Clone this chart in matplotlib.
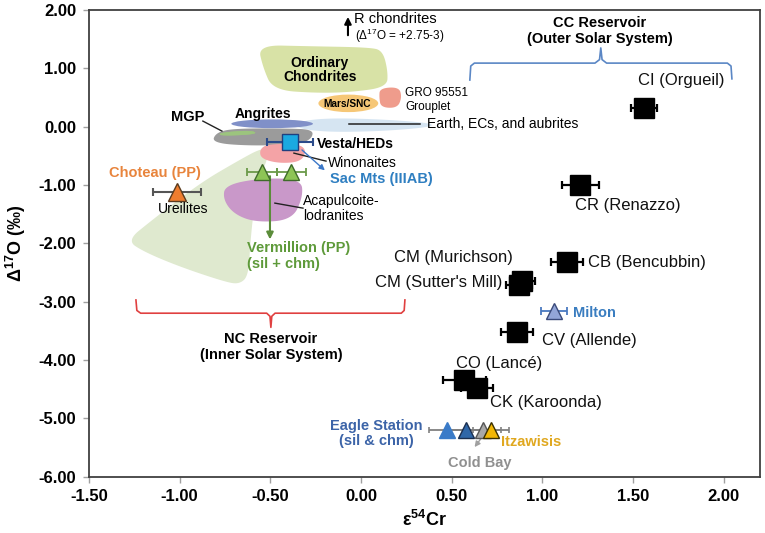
import numpy as np
import matplotlib.pyplot as plt
from matplotlib.patches import Polygon, Ellipse

plt.rcParams['font.family'] = ['Liberation Sans', 'DejaVu Sans']
plt.rcParams['mathtext.fontset'] = 'custom'
plt.rcParams['mathtext.rm'] = 'Liberation Sans'
plt.rcParams['mathtext.bf'] = 'Liberation Sans:bold'

# CC chondrites (black squares)
cc_names = ["CI (Orgueil)", "CR (Renazzo)", "CM (Murichson)", "CM (Sutter's Mill)",
            "CB (Bencubbin)", "CV (Allende)", "CO (Lancé)", "CK (Karoonda)"]
cc_cr = [1.56, 1.21, 0.89, 0.87, 1.135, 0.86, 0.57, 0.64]
cc_o = [0.32, -1.00, -2.64, -2.72, -2.32, -3.52, -4.35, -4.48]
cc_err = [0.07, 0.10, 0.07, 0.07, 0.09, 0.09, 0.12, 0.09]

# pallasites / irons etc (triangles)
vesta_cr, vesta_o, vesta_err = -0.392, -0.264, 0.127
choteau_cr, choteau_o, choteau_err = -1.015, -1.12, 0.13
verm_cr = [-0.546, -0.386]
verm_o = [-0.78, -0.78]
verm_err = [0.08, 0.08]
milton_cr, milton_o, milton_err = 1.063, -3.16, 0.07
eagle_cr = [0.473, 0.578, 0.672, 0.716]
eagle_o = [-5.2, -5.2, -5.2, -5.2]
eagle_err = [0.1, 0.1, 0.1, 0.1]
eagle_face = ['#3a7bc8', '#2f67a8', '#a8a8a8', '#f2b705']
eagle_edge = ['#3a7bc8', '#1b2f4f', '#555555', '#3a3000']

# field outlines (eps54Cr, D17O)
ureilite_field = [(-1.29, -1.95), (-1.16, -1.62), (-0.89, -0.97), (-0.67, -0.57), (-0.55, -0.37),
                  (-0.50, -0.40), (-0.55, -0.83), (-0.585, -1.26), (-0.61, -1.95), (-0.62, -2.55),
                  (-0.67, -2.70), (-0.75, -2.66), (-1.00, -2.40), (-1.20, -2.14)]
oc_field = [(-0.568, 1.40), (-0.30, 1.38), (0.05, 1.36), (0.12, 1.30), (0.148, 0.95), (0.143, 0.68),
            (-0.045, 0.594), (-0.243, 0.576), (-0.486, 0.628), (-0.541, 1.02)]
gro_field = [(0.104, 0.66), (0.21, 0.68), (0.225, 0.50), (0.20, 0.32), (0.11, 0.33), (0.10, 0.50)]
earth_field = [(-0.353, 0.08), (-0.20, 0.148), (0.10, 0.13), (0.40, 0.06), (0.38, -0.01),
               (0.10, -0.08), (-0.20, -0.093), (-0.36, -0.02)]
hed_field = [(-0.822, -0.28), (-0.80, -0.10), (-0.70, -0.03), (-0.40, -0.03), (-0.265, -0.05),
             (-0.27, -0.20), (-0.337, -0.30), (-0.60, -0.33)]
mgp_field = [(-0.778, -0.10), (-0.60, -0.06), (-0.57, -0.13), (-0.78, -0.16)]
winon_field = [(-0.52, -0.30), (-0.35, -0.29), (-0.30, -0.40), (-0.33, -0.60), (-0.45, -0.63),
               (-0.55, -0.55), (-0.56, -0.40)]
acap_field = [(-0.75, -1.00), (-0.55, -0.88), (-0.33, -0.90), (-0.32, -1.20), (-0.38, -1.60),
              (-0.58, -1.64), (-0.70, -1.50), (-0.76, -1.25)]

def chaikin(pts, n=4):
    p = np.array(pts, dtype=float)
    for _ in range(n):
        q = np.roll(p, -1, axis=0)
        p = np.column_stack([0.75 * p + 0.25 * q, 0.25 * p + 0.75 * q]).reshape(-1, 2)
    return p

fig = plt.figure(figsize=(7.65, 5.33), dpi=100)
ax = fig.add_axes([0.1163, 0.1056, 0.8772, 0.8756])
ax.set_xlim(-1.5, 2.2)
ax.set_ylim(-6, 2)

fields = [(ureilite_field, '#dfe9cf'), (oc_field, '#d8e2a6'), (gro_field, '#ef9c8c'),
          (earth_field, '#d6e5f2'), (hed_field, '#9b9b9b'), (mgp_field, '#9cc47e'),
          (winon_field, '#f4a3a6'), (acap_field, '#c998c9')]
for pts, c in fields:
    ax.add_patch(Polygon(chaikin(pts), closed=True, fc=c, ec='none', zorder=1))
ax.add_patch(Ellipse((-0.07, 0.40), 0.33, 0.30, fc='#f6c777', ec='none', zorder=1))
ax.add_patch(Ellipse((-0.49, 0.05), 0.45, 0.15, fc='#8090c8', ec='none', zorder=1.5))
ax.add_patch(Polygon(chaikin(mgp_field), closed=True, fc='#9cc47e', ec='none', zorder=1.6))

# CC squares
ax.errorbar(cc_cr, cc_o, xerr=cc_err, fmt='s', color='black', ms=14, capsize=3,
            elinewidth=1.6, capthick=1.6, zorder=4)
cc_pos = [(1.764, 0.80, 'center'), (1.179, -1.345, 'left'), (0.837, -2.237, 'right'),
          (0.782, -2.666, 'right'), (1.251, -2.322, 'left'), (0.997, -3.66, 'left'),
          (0.523, -4.055, 'left'), (0.711, -4.724, 'left')]
for name, (tx, ty, ha) in zip(cc_names, cc_pos):
    ax.text(tx, ty, name, fontsize=12, ha=ha, va='center', color='#111111', zorder=5)

# Vesta
ax.errorbar(vesta_cr, vesta_o, xerr=vesta_err, fmt='s', mfc='#1ba9e1', mec='#1f3f7f', ms=11,
            ecolor='#2b4a8a', capsize=3, elinewidth=1.5, capthick=1.5, zorder=4)
# Choteau
ax.errorbar(choteau_cr, choteau_o, xerr=choteau_err, fmt='^', mfc='#ee7d2f', mec='#5a3b1e', ms=13,
            ecolor='#555555', capsize=3, elinewidth=1.5, capthick=1.5, zorder=4)
# Vermillion
ax.annotate('', xy=(-0.502, -1.98), xytext=(-0.502, -0.80),
            arrowprops=dict(arrowstyle='-|>', color='#5b8c3a', lw=1.5, mutation_scale=10), zorder=3)
ax.errorbar(verm_cr, verm_o, xerr=verm_err, fmt='^', mfc='#8dc456', mec='#3f6b2a', ms=12,
            ecolor='#6b9a4a', capsize=3, elinewidth=1.3, capthick=1.3, zorder=4)
# Milton
ax.errorbar(milton_cr, milton_o, xerr=milton_err, fmt='^', mfc='#93a6d8', mec='#3a4a7a', ms=11,
            ecolor='#4a7ac0', capsize=3, elinewidth=1.3, capthick=1.3, zorder=4)
# Eagle Station group
for x, y, e in zip(eagle_cr, eagle_o, eagle_err):
    ax.errorbar(x, y, xerr=e, fmt='none', ecolor='#808080', capsize=2.5, elinewidth=1.3,
                capthick=1.2, zorder=3)
for x, y, fc, ec in zip(eagle_cr, eagle_o, eagle_face, eagle_edge):
    ax.plot(x, y, '^', mfc=fc, mec=ec, ms=12, zorder=4)

# field labels
ax.text(-0.227, 0.97, 'Ordinary\nChondrites', fontsize=10, fontweight='bold', ha='center',
        va='center', linespacing=1.05, zorder=5)
ax.text(-0.078, 0.388, 'Mars/SNC', fontsize=7.3, fontweight='bold', ha='center', va='center', zorder=5)
ax.text(0.242, 0.456, 'GRO 95551\nGrouplet', fontsize=8.5, ha='left', va='center',
        linespacing=1.2, zorder=5)
ax.plot([-0.066, 0.325], [0.045, 0.045], color='#222222', lw=1.1, zorder=5)
ax.text(0.363, 0.045, 'Earth, ECs, and aubrites', fontsize=10, ha='left', va='center', zorder=5)
ax.annotate('', xy=(-0.072, 1.93), xytext=(-0.072, 1.52),
            arrowprops=dict(arrowstyle='-|>', color='black', lw=1.5, mutation_scale=10))
ax.text(-0.039, 1.84, 'R chondrites', fontsize=10.5, ha='left', va='center')
ax.text(-0.034, 1.55, r'($\Delta^{17}$O = +2.75-3)', fontsize=8.5, ha='left', va='center')
ax.text(1.317, 1.64, 'CC Reservoir\n(Outer Solar System)', fontsize=10.5, fontweight='bold',
        ha='center', va='center', linespacing=1.15)
ax.text(-0.954, 0.165, 'MGP', fontsize=10.5, fontweight='bold', ha='center', va='center', zorder=5)
ax.plot([-0.872, -0.767], [0.096, -0.075], color='#222222', lw=1.0, zorder=5)
ax.text(-0.541, 0.216, 'Angrites', fontsize=10, fontweight='bold', ha='center', va='center', zorder=5)
ax.text(-0.243, -0.298, 'Vesta/HEDs', fontsize=10, fontweight='bold', ha='left', va='center', zorder=5)
ax.plot([-0.37, -0.193], [-0.453, -0.59], color='#222222', lw=1.0, zorder=5)
ax.text(-0.182, -0.624, 'Winonaites', fontsize=10, ha='left', va='center', zorder=5)
ax.annotate('', xy=(-0.188, -0.78), xytext=(-0.337, -0.367),
            arrowprops=dict(arrowstyle='-|>', color='#3c78c8', lw=1.0, mutation_scale=8), zorder=5)
ax.text(-0.171, -0.899, 'Sac Mts (IIIAB)', fontsize=10.5, fontweight='bold', color='#2f7fc1',
        ha='left', va='center', zorder=5)
ax.text(-1.136, -0.796, 'Choteau (PP)', fontsize=10.5, fontweight='bold', color='#e8843c',
        ha='center', va='center', zorder=5)
ax.text(-0.982, -1.413, 'Ureilites', fontsize=10, ha='center', va='center', zorder=5)
ax.plot([-0.475, -0.32], [-1.31, -1.396], color='#222222', lw=1.0, zorder=5)
ax.text(-0.32, -1.40, 'Acapulcoite-\nlodranites', fontsize=10, ha='left', va='center',
        linespacing=1.15, zorder=5)
ax.text(-0.629, -2.22, 'Vermillion (PP)\n(sil + chm)', fontsize=10.5, fontweight='bold',
        color='#5e9a3a', ha='left', va='center', linespacing=1.15, zorder=5)
ax.text(-0.497, -3.78, 'NC Reservoir\n(Inner Solar System)', fontsize=10.5, fontweight='bold',
        ha='center', va='center', linespacing=1.15)
ax.text(1.168, -3.197, 'Milton', fontsize=10.5, fontweight='bold', color='#3a7dc0',
        ha='left', va='center', zorder=5)
ax.text(0.082, -5.256, 'Eagle Station\n(sil & chm)', fontsize=10.5, fontweight='bold',
        color='#3c64a8', ha='center', va='center', linespacing=1.1, zorder=5)
ax.text(0.771, -5.41, 'Itzawisis', fontsize=10.5, fontweight='bold', color='#e0a820',
        ha='left', va='center', zorder=5)
ax.annotate('', xy=(0.617, -5.53), xytext=(0.683, -5.256),
            arrowprops=dict(arrowstyle='-|>', color='#a0a0a0', lw=1.0, mutation_scale=8), zorder=3)
ax.text(0.655, -5.77, 'Cold Bay', fontsize=10.5, fontweight='bold', color='#909090',
        ha='center', va='center', zorder=5)

# reservoir brackets
ax.plot([0.60, 0.605, 0.625, 1.29, 1.315, 1.322, 1.329, 1.354, 2.02, 2.04, 2.045],
        [0.80, 1.04, 1.09, 1.09, 1.15, 1.35, 1.15, 1.09, 1.09, 1.04, 0.82],
        color='#5b87c5', lw=1.2)
ax.plot([-1.241, -1.236, -1.215, -0.52, -0.502, -0.497, -0.492, -0.474, 0.222, 0.238, 0.242],
        [-2.97, -3.15, -3.197, -3.197, -3.25, -3.44, -3.25, -3.197, -3.197, -3.15, -2.97],
        color='#e04040', lw=1.2)

ax.set_xticks(np.arange(-1.5, 2.01, 0.5))
ax.set_yticks(np.arange(-6, 2.01, 1))
ax.set_xticklabels(['%.2f' % v for v in np.arange(-1.5, 2.01, 0.5)])
ax.set_yticklabels(['%.2f' % v for v in np.arange(-6, 2.01, 1)])
for lab in ax.get_xticklabels() + ax.get_yticklabels():
    lab.set_fontweight('bold')
    lab.set_fontsize(12)
ax.tick_params(direction='out', length=4, width=1, color='#a0a0a0', pad=5)
for s in ax.spines.values():
    s.set_color('#404040')
    s.set_linewidth(1.3)
ax.set_xlabel(r'$\mathbf{\varepsilon^{54}Cr}$', fontsize=13, labelpad=4)
ax.set_ylabel(r'$\mathbf{\Delta^{17}O}$ (‰)', fontsize=13, fontweight='bold', labelpad=8)

fig.savefig('out.png', dpi=100)
